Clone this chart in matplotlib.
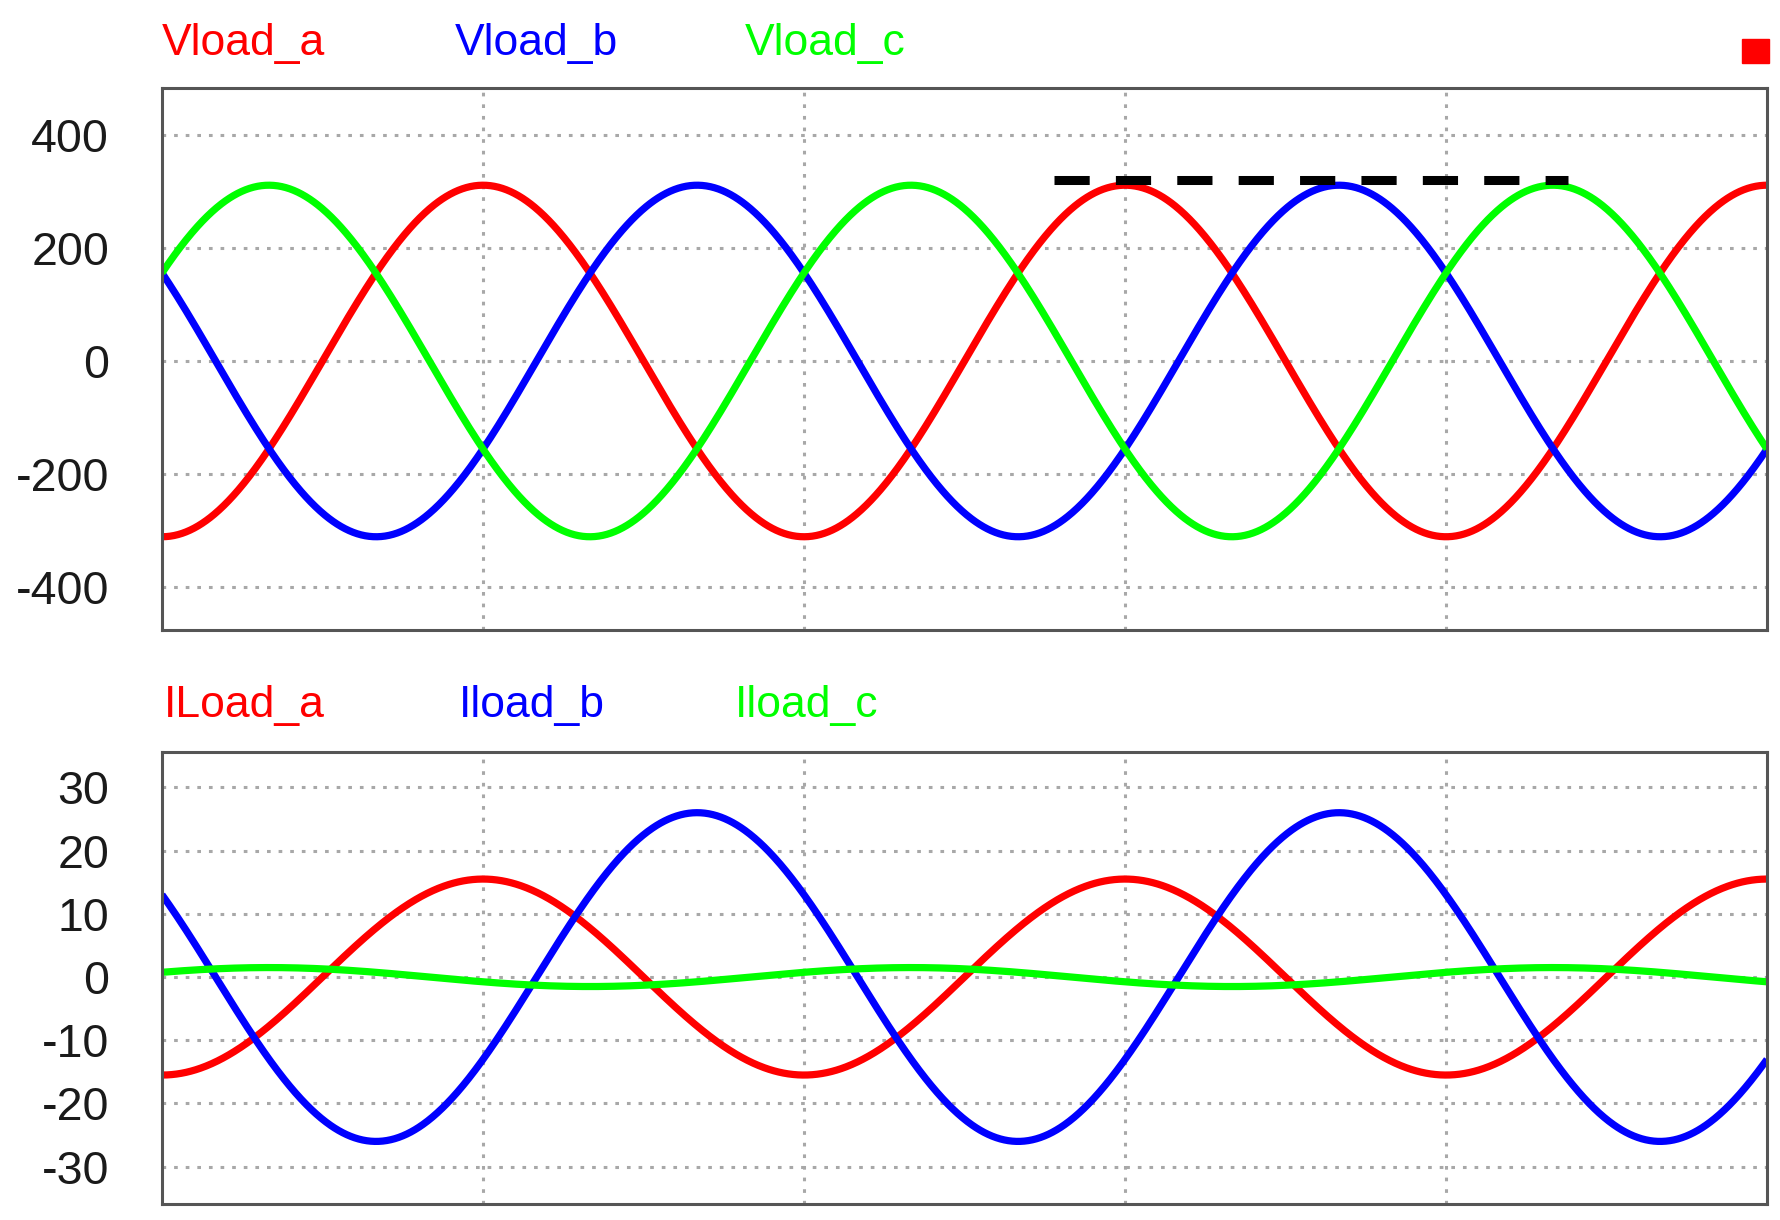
import numpy as np
import matplotlib
matplotlib.use("Agg")
import matplotlib.pyplot as plt
from matplotlib.patches import Rectangle

# waveform data (50 Hz, 2.5 cycles shown)
freq = 50.0
t_end = 0.05
phase_names_v = ["Vload_a", "Vload_b", "Vload_c"]
phase_names_i = ["ILoad_a", "Iload_b", "Iload_c"]
phase_colors = ["#ff0000", "#0000ff", "#00ff00"]

v_peak = [311, 311, 311]              # V
v_peak_time = [0.0100, 0.01667, 0.00333]   # s, time of first positive peak

i_peak = [15.5, 26.0, 1.5]            # A
i_peak_time = [0.0100, 0.01667, 0.00333]

ref_level = 320                       # dashed marker on voltage panel
ref_span = [0.0278, 0.0438]

v_ticks = [-400, -200, 0, 200, 400]
i_ticks = [-30, -20, -10, 0, 10, 20, 30]
x_grid = [0.01, 0.02, 0.03, 0.04]

plt.rcParams['font.family'] = ['Liberation Sans', 'DejaVu Sans']
plt.rcParams['axes.unicode_minus'] = False

W, H = 1780, 1220
fig = plt.figure(figsize=(W / 100, H / 100), dpi=100)


def fx(px):
    return px / W


def fy(py):
    return 1 - py / H


def make_axes(top, bottom):
    ax = fig.add_axes([fx(162), fy(bottom), fx(1767) - fx(162), fy(top) - fy(bottom)])
    ax.set_xlim(0, t_end)
    ax.set_xticks(x_grid)
    ax.set_xticklabels([])
    ax.tick_params(length=0, labelsize=33.5, pad=38, colors="#1a1a1a")
    ax.grid(True, color="#a8a8a8", linestyle=(0, (1.2, 2.6)), linewidth=2.2)
    for s in ax.spines.values():
        s.set_color("#555555")
        s.set_linewidth(2.2)
    return ax


t = np.linspace(0, t_end, 2000)
w = 2 * np.pi * freq

# voltage panel
ax1 = make_axes(88, 630)
for amp, tp, col in zip(v_peak, v_peak_time, phase_colors):
    ax1.plot(t, amp * np.cos(w * (t - tp)), color=col, lw=5.2, solid_capstyle="butt")
ax1.plot(ref_span, [ref_level, ref_level], color="black", lw=6.5,
         dashes=(3.9, 2.9), dash_capstyle="butt")
ax1.set_ylim(-476, 483)
ax1.set_yticks(v_ticks)

# current panel
ax2 = make_axes(752, 1204)
for amp, tp, col in zip(i_peak, i_peak_time, phase_colors):
    ax2.plot(t, amp * np.cos(w * (t - tp)), color=col, lw=5.2, solid_capstyle="butt")
ax2.set_ylim(-35.9, 35.6)
ax2.set_yticks(i_ticks)

# trace names above each panel
for name, col, x in zip(phase_names_v, phase_colors, [162, 455, 745]):
    fig.text(fx(x), fy(55), name, color=col, fontsize=32, va="baseline")
for name, col, x in zip(phase_names_i, phase_colors, [164, 459, 735]):
    fig.text(fx(x), fy(717), name, color=col, fontsize=32, va="baseline")

# little red run indicator in the corner
fig.add_artist(Rectangle((fx(1742), fy(63)), fx(27), 24 / H,
                         transform=fig.transFigure, color="#ff0000"))

fig.savefig("out.png", dpi=100)
